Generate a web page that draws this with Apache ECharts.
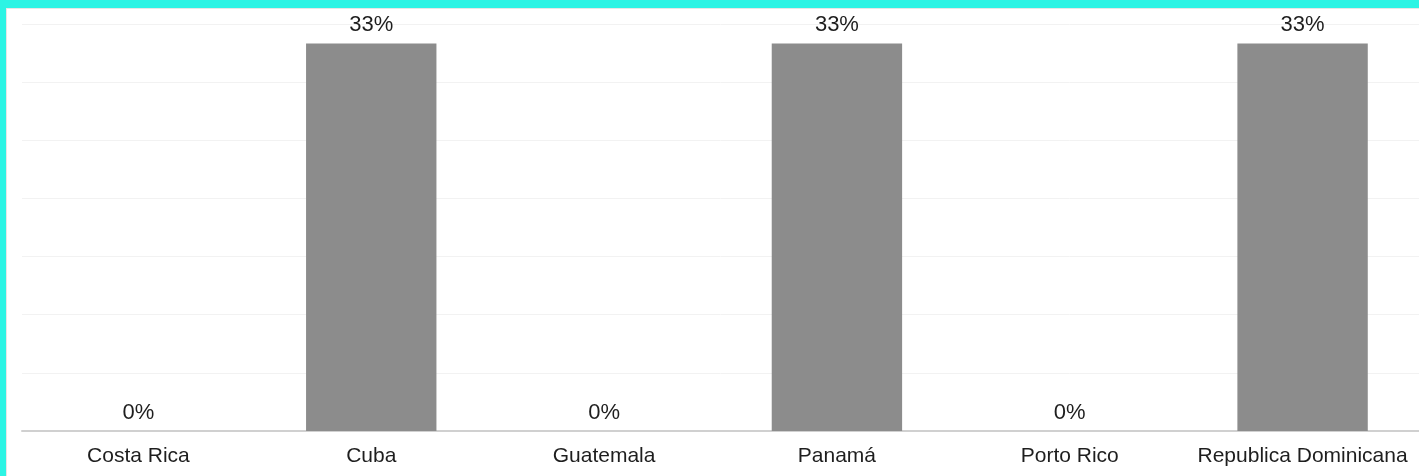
<!DOCTYPE html>
<html>
<head>
<meta charset="utf-8">
<script src="https://cdn.jsdelivr.net/npm/echarts@6/dist/echarts.min.js"></script>
<style>
html,body{margin:0;padding:0;width:1419px;height:476px;overflow:hidden;background:#2cf4e4;}
#frame{position:absolute;left:6px;top:8px;width:1413px;height:468px;background:#fff;border-left:1px solid #e6e6e6;border-top:1px solid #e6e6e6;box-sizing:border-box;}
#chart{position:absolute;left:0;top:0;width:1419px;height:476px;}
</style>
</head>
<body>
<div id="frame"></div>
<div id="chart"></div>
<script>
const categories = ['Costa Rica', 'Cuba', 'Guatemala', 'Panamá', 'Porto Rico', 'Republica Dominicana'];
const values = [0, 33.33, 0, 33.33, 0, 33.33];
const yMin = 0, yMax = 35, yInterval = 5;

const chart = echarts.init(document.getElementById('chart'), null, {renderer: 'canvas'});
chart.setOption({
  backgroundColor: 'transparent',
  animation: false,
  grid: {left: 22, right: 0, top: 24, bottom: 45, containLabel: false},
  xAxis: {
    type: 'category',
    data: categories,
    axisLine: {show: true, lineStyle: {color: '#d0d0d0', width: 2}},
    axisTick: {show: false},
    axisLabel: {color: '#1e1e1e', fontSize: 21, fontFamily: 'Liberation Sans, Arial, sans-serif', margin: 15, interval: 0}
  },
  yAxis: {
    type: 'value',
    min: yMin, max: yMax, interval: yInterval,
    axisLine: {show: false},
    axisTick: {show: false},
    axisLabel: {show: false},
    splitLine: {show: true, lineStyle: {color: '#f2f2f2', width: 1}}
  },
  series: [{
    type: 'bar',
    data: values,
    barWidth: '56%',
    itemStyle: {color: '#8c8c8c'},
    label: {
      show: true,
      position: 'top',
      distance: 7,
      color: '#1e1e1e',
      fontSize: 22,
      fontFamily: 'Liberation Sans, Arial, sans-serif',
      formatter: p => Math.round(p.value) + '%'
    }
  }]
});
</script>
</body>
</html>
